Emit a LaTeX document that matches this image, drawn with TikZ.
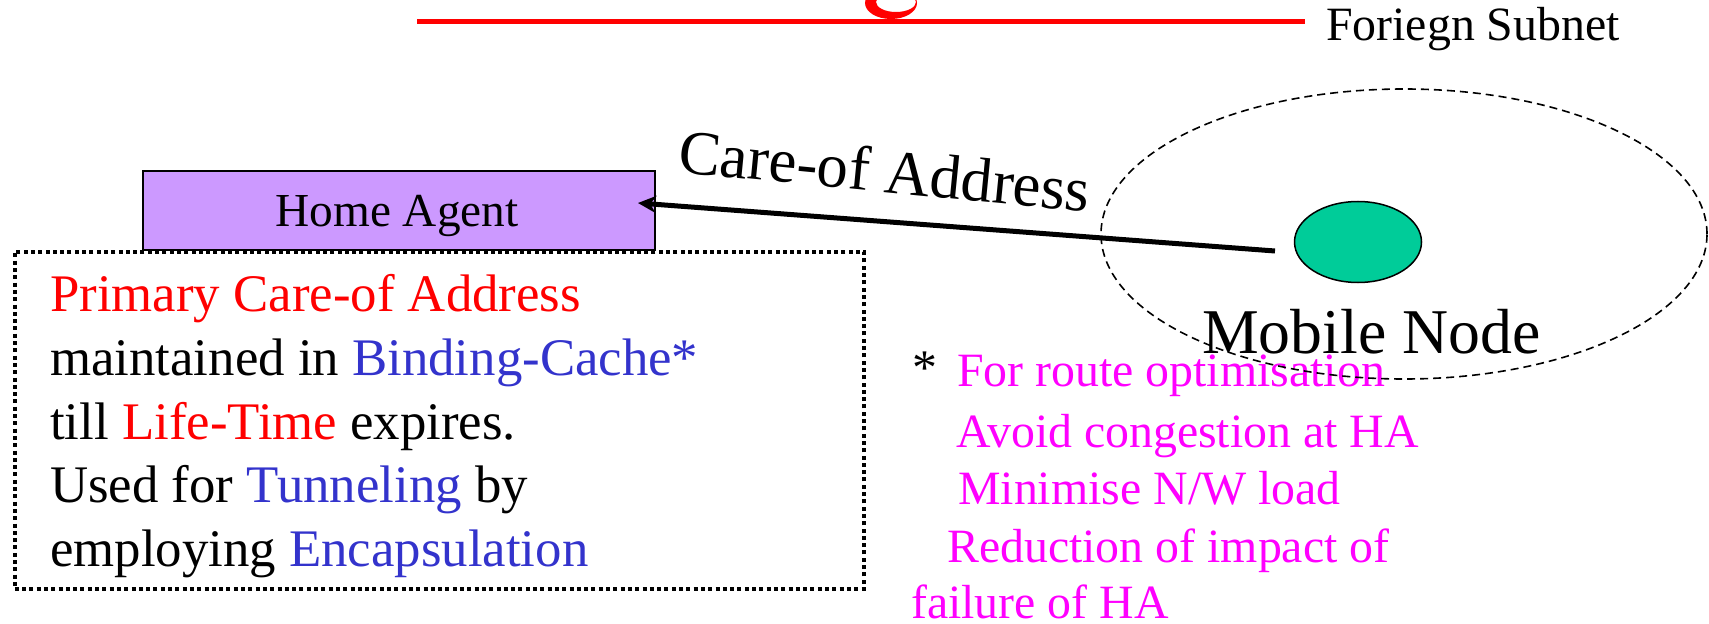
\documentclass[tikz,border=0pt]{standalone}
\usepackage{fontspec}
\setmainfont{Liberation Serif}
\usetikzlibrary{arrows.meta,shapes.geometric}
\definecolor{hapurple}{HTML}{CC99FF}
\definecolor{mngreen}{HTML}{00CC99}
\definecolor{txtblue}{HTML}{3333CC}
\definecolor{txtred}{HTML}{FF0000}
\definecolor{txtpink}{HTML}{FF00FF}
\begin{document}
\begin{tikzpicture}[x=1bp,y=-1bp,
  boxline/.style={anchor=base west, inner sep=0pt, font=\fontsize{53}{60}\selectfont},
  pinkline/.style={anchor=base west, inner sep=0pt, text=txtpink, font=\fontsize{48}{55}\selectfont},
  agentbox/.style={draw=black, line width=2bp, fill=hapurple, minimum width=512bp, minimum height=79bp, anchor=north west, inner sep=0pt},
  notebox/.style={draw=black, line width=3.5bp, dash pattern=on 4bp off 3.3bp, minimum width=849bp, minimum height=337bp, anchor=north west, inner sep=0pt},
  mnode/.style={ellipse, draw=black, line width=1.5bp, fill=mngreen, minimum width=127bp, minimum height=81bp, inner sep=0pt},
  subnetring/.style={ellipse, draw=black, line width=1.6bp, dash pattern=on 8bp off 5bp, minimum width=606bp, minimum height=290bp, inner sep=0pt},
  linkarrow/.style={line width=5bp, -{Stealth[length=18bp,width=17bp]}}
]
\useasboundingbox (0,0) rectangle (1709,624);

% foreign subnet line and cut-off shape
\fill[txtred, even odd rule] (891,3) ellipse [x radius=26, y radius=16]
  (896,2) ellipse [x radius=20, y radius=10];
\coordinate (lineL) at (417,21.5);
\coordinate (lineR) at (1305,21.5);
\draw[txtred, line width=5.5bp] (lineL) -- (lineR);
\node[anchor=base west, inner sep=0pt, font=\fontsize{48}{55}\selectfont] (fsub) at (1326,41) {Foriegn Subnet};

% home agent
\node[agentbox] (ha) at (142,170) {};
\node[anchor=base, inner sep=0pt, font=\fontsize{47.5}{55}\selectfont] (halabel) at (397,227) {Home Agent};

% note box
\node[notebox] (note) at (13,250) {};
\node[boxline] (l1) at (50,311) {\textcolor{txtred}{Primary Care-of Address}};
\node[boxline] (l2) at (50,375) {maintained in \textcolor{txtblue}{Binding-Cache*}};
\node[boxline] (l3) at (50,439) {till \textcolor{txtred}{Life-Time} expires.};
\node[boxline] (l4) at (50,502) {Used for \textcolor{txtblue}{Tunneling} by};
\node[boxline] (l5) at (50,566) {employing \textcolor{txtblue}{Encapsulation}};

% mobile node
\node[mnode] (mn) at (1358,242) {};
\node[anchor=base west, inner sep=0pt, font=\fontsize{64}{70}\selectfont] (mnlabel) at (1202,353) {Mobile Node};

% arrow
\coordinate (tail) at (1275,251);
\coordinate (tip) at (638,203);
\draw[linkarrow] (tail) -- (tip);
\node[anchor=base west, inner sep=0pt, rotate=-5.6, font=\fontsize{63}{70}\selectfont] (coa) at (677,172) {Care-of Address};

% footnote
\node[anchor=base west, inner sep=0pt, font=\fontsize{50}{55}\selectfont] (star) at (912,384) {*};
\node[pinkline] (p1) at (957,386) {For route optimisation};
\node[pinkline] (p2) at (956,447) {Avoid congestion at HA};
\node[pinkline] (p3) at (958,504) {Minimise N/W load};
\node[pinkline] (p4) at (947,562) {Reduction of impact of};
\node[pinkline] (p5) at (911,618) {failure of HA};

% subnet ring
\node[subnetring] (ring) at (1404,234) {};
\end{tikzpicture}
\end{document}
